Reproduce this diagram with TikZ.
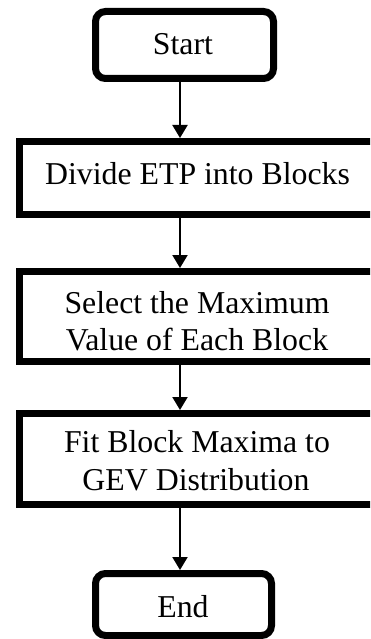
\documentclass[tikz,border=0pt]{standalone}
\usepackage{fontspec}
\setmainfont{Liberation Serif}
\usetikzlibrary{arrows.meta}
\begin{document}
\begin{tikzpicture}[x=1pt,y=-1pt,
  termbox/.style={draw, line width=7pt, rounded corners=10pt, inner sep=0pt},
  stepbox/.style={draw, line width=7pt, inner sep=0pt},
  lbl/.style={font=\fontsize{31.8}{37}\selectfont, anchor=base, inner sep=0pt},
  flow/.style={line width=2pt, -{Triangle[length=13pt,width=15pt]}}]
  \useasboundingbox (0,0) rectangle (370,639);
  \clip (0,0) rectangle (370,639);
  % vertical line along which all connectors run
  \coordinate (axis) at (180,0);

  % boxes
  \node[termbox, minimum width=178pt, minimum height=67pt] (start)  at (184.5,45) {};
  \node[stepbox, minimum width=355pt, minimum height=73pt] (divide) at (197,178) {};
  \node[stepbox, minimum width=355pt, minimum height=90pt] (select) at (197,316.5) {};
  \node[stepbox, minimum width=355pt, minimum height=91pt] (fit)    at (197,459) {};
  \node[termbox, minimum width=176pt, minimum height=62pt] (stop)   at (183.5,604.5) {};

  % box texts
  \node[lbl] (startT)  at (183,55)    {Start};
  \node[lbl] (divideT) at (197.5,185) {Divide ETP into Blocks};
  \node[lbl] (selectA) at (197,313)   {Select the Maximum};
  \node[lbl] (selectB) at (197,350)   {Value of Each Block};
  \node[lbl] (fitA)    at (197,452)   {Fit Block Maxima to};
  \node[lbl] (fitB)    at (196,490)   {GEV Distribution};
  \node[lbl] (stopT)   at (183,617)   {End};

  % connectors
  \draw[flow] (start.south -| axis)  -- (divide.north -| axis);
  \draw[flow] (divide.south -| axis) -- (select.north -| axis);
  \draw[flow] (select.south -| axis) -- (fit.north -| axis);
  \draw[flow] (fit.south -| axis)    -- (stop.north -| axis);
\end{tikzpicture}
\end{document}
